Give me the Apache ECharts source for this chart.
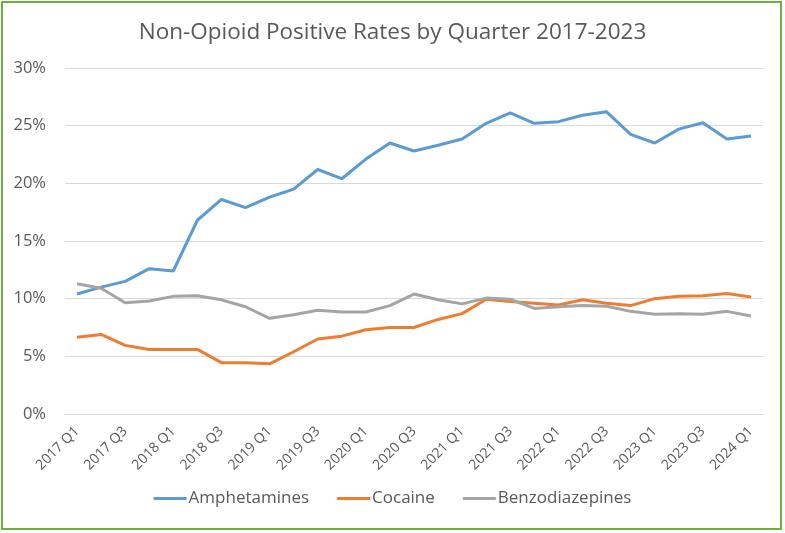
<!DOCTYPE html>
<html>
<head>
<meta charset="utf-8">
<script src="https://cdn.jsdelivr.net/npm/echarts@6/dist/echarts.min.js"></script>
<style>html,body{margin:0;padding:0;background:#fff;}#c{width:785px;height:533px;}</style>
</head>
<body>
<div id="c"></div>
<script>
const categories = [];
const years = [2017,2018,2019,2020,2021,2022,2023];
for (const y of years) for (const q of [1,2,3,4]) categories.push(y + ' Q' + q);
categories.push('2024 Q1');

const amphetamines = [10.4,11.0,11.5,12.6,12.4,16.8,18.6,17.9,18.8,19.5,21.2,20.4,22.1,23.5,22.8,23.3,23.85,25.2,26.1,25.2,25.35,25.9,26.2,24.25,23.5,24.7,25.25,23.85,24.1];
const cocaine = [6.65,6.9,5.95,5.6,5.6,5.6,4.45,4.45,4.35,5.4,6.5,6.75,7.3,7.5,7.5,8.2,8.7,9.95,9.75,9.6,9.45,9.9,9.6,9.4,10.0,10.2,10.25,10.45,10.15];
const benzodiazepines = [11.3,10.9,9.65,9.8,10.2,10.25,9.9,9.3,8.3,8.6,9.0,8.85,8.85,9.4,10.4,9.9,9.55,10.05,9.95,9.15,9.3,9.4,9.35,8.9,8.65,8.7,8.65,8.9,8.5];
const yTicks = {min: 0, max: 30, interval: 5};

const chart = echarts.init(document.getElementById('c'), null, {renderer: 'canvas'});
const font = "'Open Sans', 'Liberation Sans', sans-serif";
chart.setOption({
  animation: false,
  color: ['#5B9BD5', '#ED7D31', '#A5A5A5'],
  title: {
    text: 'Non-Opioid Positive Rates by Quarter 2017-2023',
    left: 'center', top: 16,
    textStyle: {color: '#595959', fontSize: 22.5, fontWeight: 'normal', fontFamily: font}
  },
  graphic: [{
    type: 'rect', shape: {x: 2, y: 2, width: 779, height: 527},
    style: {fill: 'none', stroke: '#70AD47', lineWidth: 2}, silent: true
  }],
  legend: {
    bottom: 21, left: 'center', itemWidth: 33, itemHeight: 3, icon: 'rect', itemGap: 28,
    textStyle: {color: '#595959', fontSize: 17, fontFamily: font, padding: [0, 0, 0, -3]},
    data: ['Amphetamines', 'Cocaine', 'Benzodiazepines']
  },
  grid: {left: 65, right: 22, top: 68, bottom: 119, containLabel: false},
  xAxis: {
    type: 'category', data: categories, boundaryGap: true,
    axisLine: {lineStyle: {color: '#D9D9D9'}},
    axisTick: {show: false},
    axisLabel: {interval: 1, rotate: 45, color: '#595959', fontSize: 14, fontFamily: font, margin: 15}
  },
  yAxis: {
    type: 'value', min: yTicks.min, max: yTicks.max, interval: yTicks.interval,
    axisLine: {show: false}, axisTick: {show: false},
    splitLine: {lineStyle: {color: '#D9D9D9', width: 1}},
    axisLabel: {formatter: '{value}%', color: '#595959', fontSize: 16.5, fontFamily: font, margin: 19}
  },
  series: [
    {name: 'Amphetamines', type: 'line', data: amphetamines, symbol: 'none', lineStyle: {width: 3}},
    {name: 'Cocaine', type: 'line', data: cocaine, symbol: 'none', lineStyle: {width: 3}},
    {name: 'Benzodiazepines', type: 'line', data: benzodiazepines, symbol: 'none', lineStyle: {width: 3}}
  ]
});
</script>
</body>
</html>
